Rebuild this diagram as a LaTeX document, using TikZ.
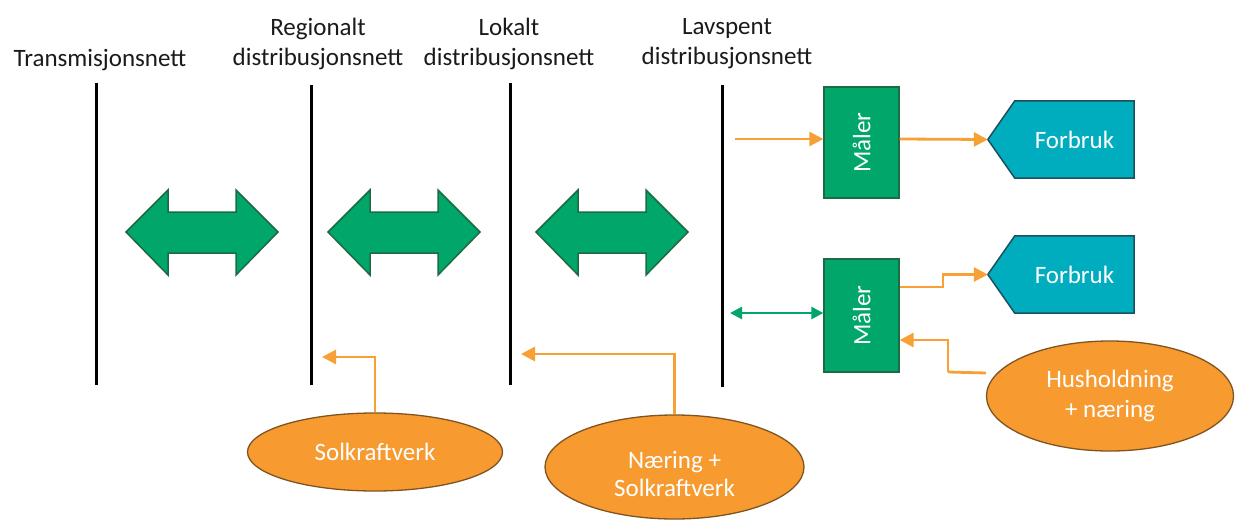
\documentclass[tikz,border=0pt]{standalone}
\usepackage{fontspec}
\setmainfont{Carlito}
\usetikzlibrary{arrows.meta,backgrounds,shapes.geometric}
\definecolor{bgreen}{HTML}{00A66A}
\definecolor{bgreenD}{HTML}{1C6B44}
\definecolor{tealF}{HTML}{00ADBF}
\definecolor{tealD}{HTML}{1D4F5C}
\definecolor{orF}{HTML}{F79A30}
\definecolor{orD}{HTML}{7F5420}
\definecolor{orL}{HTML}{F7A035}
\definecolor{txt}{HTML}{1A1A1A}
\begin{document}
\begin{tikzpicture}[x=1pt,y=-1pt,
  font=\fontsize{25}{30}\selectfont,
  lbl/.style={text=txt,align=center,inner sep=0pt},
  netline/.style={line width=3pt,black},
  blk/.style={fill=bgreen,draw=bgreenD,line width=1.5pt,line join=miter},
  maler/.style={rectangle,fill=bgreen,draw=bgreenD,line width=1.3pt,text=white,minimum width=75pt,inner sep=0pt},
  fb/.style={rectangle,text=white,minimum width=119pt,minimum height=77pt,inner sep=0pt},
  fbshape/.style={fill=tealF,draw=tealD,line width=1.5pt},
  ell/.style={ellipse,fill=orF,draw=orD,line width=1.3pt,text=white,inner sep=0pt,align=center},
  oarr/.style={draw=orL,line width=2.8pt,-{Triangle[length=14pt,width=14pt]}},
  garr/.style={draw=bgreen,line width=2.6pt,{Triangle[length=12pt,width=12pt]}-{Triangle[length=12pt,width=12pt]}},
  dblarrow/.pic={\path[blk] (0,0) -- (42,-42) -- (42,-20) -- (110,-20) -- (110,-42) -- (152,0) -- (110,43) -- (110,21) -- (42,21) -- (42,43) -- cycle;}
]
\useasboundingbox (0,0) rectangle (1236,522);

% labels
\node[lbl] (l1) at (100,60) {Transmisjonsnett};
\node[lbl] (l2) at (318,44) {Regionalt\\distribusjonsnett};
\node[lbl] (l3) at (509,44) {Lokalt\\distribusjonsnett};
\node[lbl] (l4) at (727,44) {Lavspent\\distribusjonsnett};

% network lines
\coordinate (v1t) at (96,83);  \coordinate (v1b) at (96,385);
\coordinate (v2t) at (311,85); \coordinate (v2b) at (311,385);
\coordinate (v3t) at (510,83); \coordinate (v3b) at (510,385);
\coordinate (v4t) at (722,85); \coordinate (v4b) at (722,387);
\draw[netline] (v1t) -- (v1b);
\draw[netline] (v2t) -- (v2b);
\draw[netline] (v3t) -- (v3b);
\draw[netline] (v4t) -- (v4b);

% block double arrows
\pic at (126,232) {dblarrow};
\pic at (328,232) {dblarrow};
\pic at (536,232) {dblarrow};

% meters
\node[maler,minimum height=111pt] (m1) at (861.5,142.5) {\rotatebox{90}{Måler}};
\node[maler,minimum height=113pt] (m2) at (861.5,315.5) {\rotatebox{90}{Måler}};

% consumption
\node[fb] (f1) at (1074.5,139.5) {Forbruk};
\node[fb] (f2) at (1074.5,274.5) {Forbruk};
\coordinate (f1tip) at ([xshift=-27pt]f1.west);
\coordinate (f2tip) at ([xshift=-27pt]f2.west);
\begin{scope}[on background layer]
\path[fbshape] (f1.north west) -- (f1.north east) -- (f1.south east) -- (f1.south west) -- (f1tip) -- cycle;
\path[fbshape] (f2.north west) -- (f2.north east) -- (f2.south east) -- (f2.south west) -- (f2tip) -- cycle;
\end{scope}

% producers
\node[ell,minimum width=255pt,minimum height=78pt] (s) at (375,452) {Solkraftverk};
\node[ell,minimum width=259pt,minimum height=104pt] (n) at (674.5,467) {\smash{\raisebox{-16pt}{\renewcommand{\arraystretch}{0.92}\begin{tabular}{@{}c@{}}Næring +\\Solkraftverk\end{tabular}}}};
\node[ell,minimum width=247pt,minimum height=110pt] (h) at (1110,396) {Husholdning\\+ næring};

% connectors
\coordinate (a1) at (735,139);
\coordinate (g1) at (730,313);
\coordinate (t2) at (322,357);
\coordinate (t3) at (521,354);
\draw[oarr] (a1) -- (a1 -| m1.west);
\draw[oarr] (m1.east |- a1) -- (f1tip);
\draw[oarr] ([yshift=28.5pt]m2.east) -- (943,287) |- (f2tip);
\draw[garr] (g1) -- (g1 -| m2.west);
\draw[orL,line width=2.8pt] ([yshift=23pt]h.west) -- (948,372);
\draw[oarr] (948,372) |- ([yshift=-24.5pt]m2.east);
\draw[oarr] (s.north) |- (t2);
\draw[oarr] (n.north) |- (t3);
\end{tikzpicture}
\end{document}
